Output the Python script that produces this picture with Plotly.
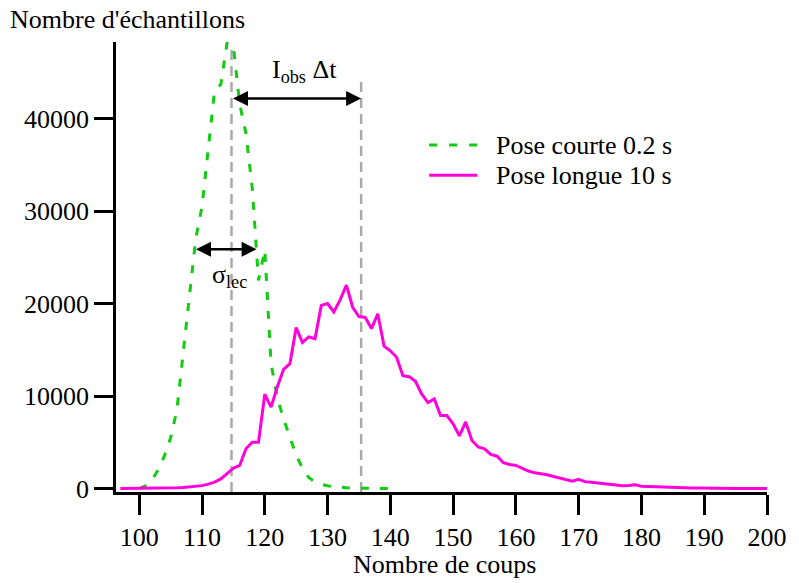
import plotly.graph_objects as go

# Pose courte 0.2 s (green, dashed)
court_x = list(range(100, 141))
court_y = [0, 300, 900, 2000, 3500, 5500, 8500, 14500, 21000, 27000,
           30500, 37000, 43000, 43700, 48200, 47800, 41600, 38400, 32500, 22500,
           25800, 13500, 9800, 7500, 5500, 3600, 2200, 1200, 700, 450,
           300, 200, 120, 80, 50, 40, 30, 20, 10, 5, 0]

# Pose longue 10 s (magenta, solid)
long_x = list(range(97, 201))
long_y = [0, 0, 0, 0, 0, 10, 20, 30, 50, 80,
          120, 170, 230, 320, 480, 700, 1050, 1600, 2200, 2500,
          4300, 5000, 5000, 10200, 8800, 11000, 12900, 13500, 17400, 15800,
          16400, 16200, 19800, 20000, 19100, 20400, 22000, 19600, 18600, 18500,
          17300, 18900, 15400, 14900, 14200, 12200, 12100, 11600, 10200, 9300,
          9700, 7900, 7900, 7000, 5700, 7200, 5200, 4500, 4300, 3700,
          3500, 2800, 2600, 2500, 2200, 1900, 1700, 1600, 1500, 1300,
          1150, 1000, 800, 1000, 750, 680, 600, 500, 420, 350,
          300, 330, 400, 260, 230, 200, 160, 130, 100, 90,
          80, 70, 60, 40, 35, 30, 25, 20, 15, 10,
          10, 5, 5, 0]

x_ticks = list(range(100, 201, 10))
y_ticks = [0, 10000, 20000, 30000, 40000]

# markers (mean positions of the two distributions)
mean_court = 114.7
mean_long = 135.35
sigma_left, sigma_right = 108.8, 118.7

GREEN = '#11cc11'
PINK = '#ff00dd'
GREY = '#aaaaaa'
FONT = '"Liberation Serif", "Times New Roman", Times, serif'

fig = go.Figure()
fig.add_trace(go.Scatter(x=court_x, y=court_y, mode='lines', name='Pose courte 0.2 s',
                         line=dict(color=GREEN, width=3, dash='8px,11px')))
fig.add_trace(go.Scatter(x=long_x, y=long_y, mode='lines', name='Pose longue 10 s',
                         line=dict(color=PINK, width=3)))

shapes = [
    dict(type='line', xref='x', yref='y', x0=mean_court, x1=mean_court, y0=-370, y1=47900,
         line=dict(color=GREY, width=2.5, dash='10px,6px'), layer='below'),
    dict(type='line', xref='x', yref='y', x0=mean_long, x1=mean_long, y0=-370, y1=44500,
         line=dict(color=GREY, width=2.5, dash='10px,6px'), layer='below'),
    # legend samples
    dict(type='line', xref='paper', yref='paper', x0=0.481, x1=0.555, y0=0.771, y1=0.771,
         line=dict(color=GREEN, width=3, dash='8px,12px')),
    dict(type='line', xref='paper', yref='paper', x0=0.481, x1=0.555, y0=0.704, y1=0.704,
         line=dict(color=PINK, width=3)),
]

annotations = [
    dict(x=mean_long, y=42160, ax=mean_court, ay=42160, xref='x', yref='y', axref='x', ayref='y',
         text='', showarrow=True, arrowside='end+start', arrowhead=2, arrowsize=1.2,
         arrowwidth=2.5, arrowcolor='black'),
    dict(x=sigma_right, y=25870, ax=sigma_left, ay=25870, xref='x', yref='y', axref='x', ayref='y',
         text='', showarrow=True, arrowside='end+start', arrowhead=2, arrowsize=1.2,
         arrowwidth=2.5, arrowcolor='black'),
    dict(x=126.3, y=45100, xref='x', yref='y', text='I<sub>obs</sub> Δt', showarrow=False),
    dict(x=114.3, y=23000, xref='x', yref='y', text='σ<sub>lec</sub>', showarrow=False),
    dict(x=0.58, y=0.771, xref='paper', yref='paper', text='Pose courte 0.2 s', showarrow=False,
         xanchor='left', yanchor='middle'),
    dict(x=0.58, y=0.704, xref='paper', yref='paper', text='Pose longue 10 s', showarrow=False,
         xanchor='left', yanchor='middle'),
    dict(x=-0.166, y=1.049, xref='paper', yref='paper', text="Nombre d'échantillons", showarrow=False,
         xanchor='left', yanchor='middle'),
    dict(x=0.505, y=-0.198, xref='paper', yref='paper', text='Nombre de coups', showarrow=False,
         xanchor='center', yanchor='bottom'),
]

fig.update_layout(
    width=799, height=583,
    margin=dict(l=116, r=24, t=42, b=91),
    paper_bgcolor='white', plot_bgcolor='white',
    font=dict(family=FONT, size=26, color='black'),
    showlegend=False,
    shapes=shapes,
    annotations=annotations,
    xaxis=dict(range=[96.3, 200], tickvals=x_ticks, showgrid=False, zeroline=False,
               showline=True, linewidth=2.5, linecolor='black',
               ticks='outside', ticklen=20, tickwidth=2.5, tickcolor='black'),
    yaxis=dict(range=[-370, 48280], tickvals=y_ticks, tickformat='d', showgrid=False, zeroline=False,
               showline=True, linewidth=2.5, linecolor='black',
               ticks='outside', ticklen=19, tickwidth=2.5, tickcolor='black'),
)

fig.write_html('out.html', config={'displayModeBar': False},
               post_script="document.body.style.margin='0';")
